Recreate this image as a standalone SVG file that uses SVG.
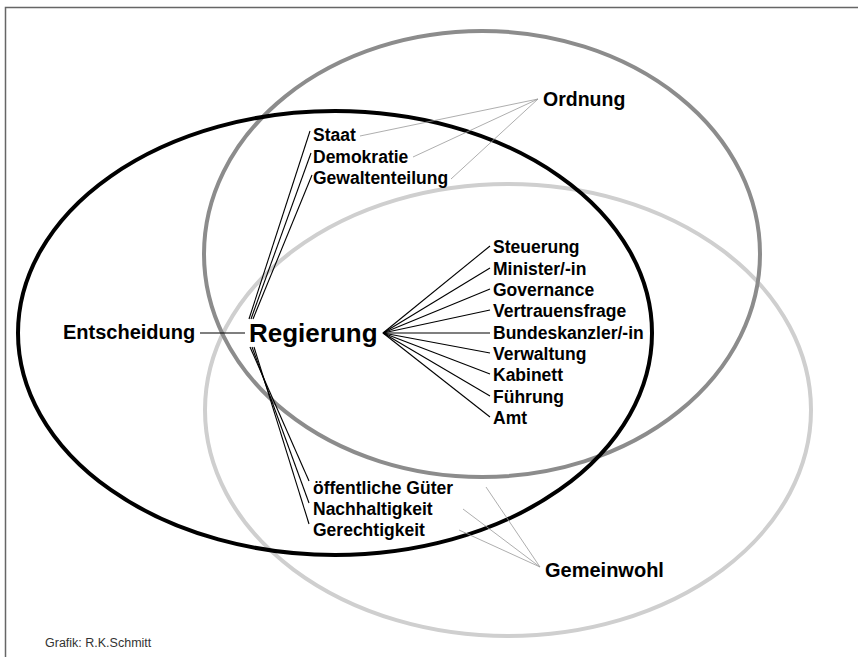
<svg xmlns="http://www.w3.org/2000/svg" width="858" height="657" viewBox="0 0 858 657">
<style>
.t{font-family:"Liberation Sans",Arial,sans-serif;font-weight:bold;fill:#000}
.s{font-size:17.5px}
.k{stroke:#000;stroke-width:1.1;fill:none}
.g{stroke:#999;stroke-width:0.8;fill:none}
</style>
<rect x="0" y="0" width="858" height="657" fill="#fff"/>
<rect x="5.5" y="7.5" width="900" height="700" fill="none" stroke="#666" stroke-width="1.5"/>
<g id="sets" fill="none" stroke-width="4">
<ellipse id="gemeinwohl-set" cx="508" cy="410" rx="303" ry="226" stroke="#cfcfcf"/>
<ellipse id="ordnung-set" cx="482" cy="254" rx="278" ry="223" stroke="#8c8c8c"/>
<ellipse id="regierung-set" cx="335" cy="333" rx="317" ry="222" stroke="#000"/>
</g>
<g id="connectors">
<line class="k" x1="200" y1="333" x2="245" y2="333"/>
<line class="k" x1="249" y1="319" x2="310" y2="131"/>
<line class="k" x1="251" y1="319" x2="311" y2="153"/>
<line class="k" x1="253" y1="319" x2="312" y2="175"/>
<line class="k" x1="250" y1="347" x2="309" y2="481"/>
<line class="k" x1="252" y1="347" x2="309" y2="503"/>
<line class="k" x1="254" y1="347" x2="309" y2="524"/>
<line class="k" x1="383" y1="333" x2="490" y2="246"/>
<line class="k" x1="383" y1="333" x2="490" y2="268"/>
<line class="k" x1="383" y1="333" x2="490" y2="289"/>
<line class="k" x1="383" y1="333" x2="490" y2="310"/>
<line class="k" x1="383" y1="333" x2="490" y2="333"/>
<line class="k" x1="383" y1="333" x2="490" y2="353"/>
<line class="k" x1="383" y1="333" x2="490" y2="374"/>
<line class="k" x1="383" y1="333" x2="490" y2="396"/>
<line class="k" x1="383" y1="333" x2="490" y2="417"/>
<line class="g" x1="538" y1="99" x2="360" y2="136"/>
<line class="g" x1="538" y1="99" x2="413" y2="157"/>
<line class="g" x1="538" y1="99" x2="451" y2="179"/>
<line class="g" x1="540" y1="567" x2="486" y2="487"/>
<line class="g" x1="540" y1="567" x2="463" y2="509"/>
<line class="g" x1="540" y1="567" x2="459" y2="530"/>
</g>
<g id="regierung"><text class="t" x="249" y="342" font-size="26">Regierung</text></g>
<g id="entscheidung"><text class="t" x="63" y="339" font-size="20">Entscheidung</text></g>
<g id="ordnung"><text class="t" x="543" y="106" font-size="19.5">Ordnung</text></g>
<g id="gemeinwohl"><text class="t" x="545" y="577" font-size="20">Gemeinwohl</text></g>
<g id="staat"><text class="t s" x="313" y="141">Staat</text></g>
<g id="demokratie"><text class="t s" x="313" y="163">Demokratie</text></g>
<g id="gewaltenteilung"><text class="t s" x="313" y="184">Gewaltenteilung</text></g>
<g id="steuerung"><text class="t s" x="493" y="253">Steuerung</text></g>
<g id="minister"><text class="t s" x="493" y="275">Minister/-in</text></g>
<g id="governance"><text class="t s" x="493" y="296">Governance</text></g>
<g id="vertrauensfrage"><text class="t s" x="493" y="317">Vertrauensfrage</text></g>
<g id="bundeskanzler"><text class="t s" x="493" y="339">Bundeskanzler/-in</text></g>
<g id="verwaltung"><text class="t s" x="493" y="360">Verwaltung</text></g>
<g id="kabinett"><text class="t s" x="493" y="381">Kabinett</text></g>
<g id="fuehrung"><text class="t s" x="493" y="403">Führung</text></g>
<g id="amt"><text class="t s" x="493" y="424">Amt</text></g>
<g id="oeffentliche-gueter"><text class="t s" x="313" y="494">öffentliche Güter</text></g>
<g id="nachhaltigkeit"><text class="t s" x="313" y="515">Nachhaltigkeit</text></g>
<g id="gerechtigkeit"><text class="t s" x="313" y="536">Gerechtigkeit</text></g>
<text x="45" y="647" font-family="'Liberation Sans',Arial,sans-serif" font-size="12.5" fill="#333">Grafik: R.K.Schmitt</text>
</svg>
